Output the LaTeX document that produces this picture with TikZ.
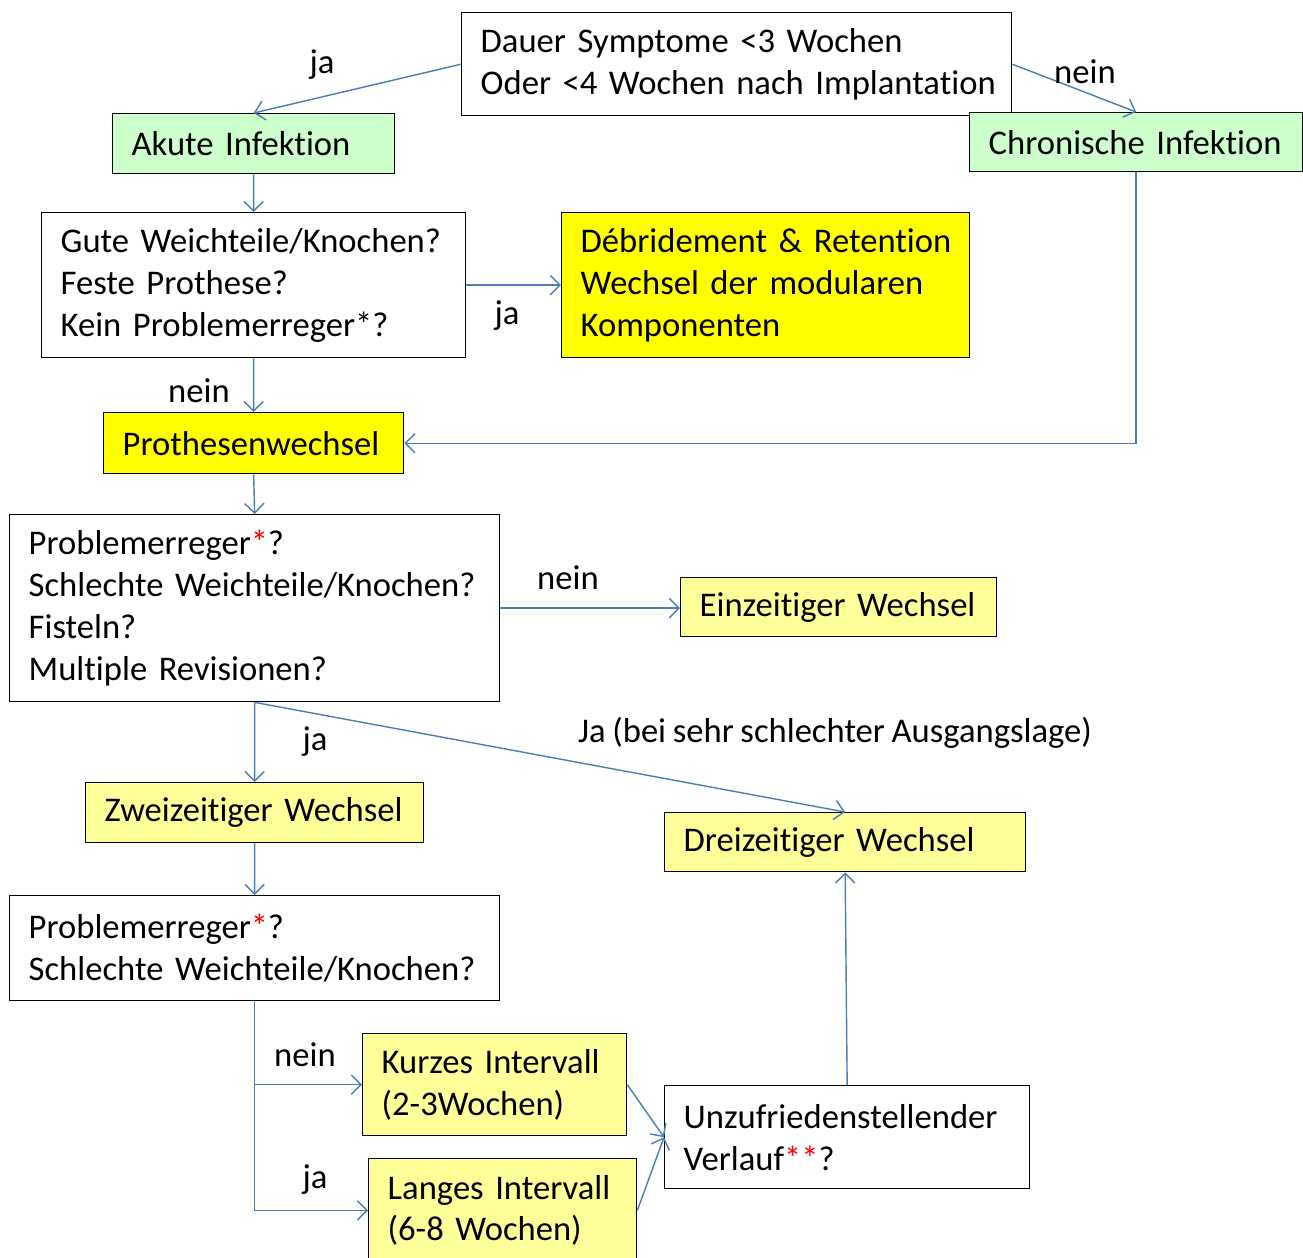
\documentclass[tikz,border=0pt]{standalone}
\usepackage{fontspec}
\setmainfont{Carlito}[Ligatures={NoCommon},WordSpace={0.85}]
\usetikzlibrary{arrows.meta}
\definecolor{flowblue}{HTML}{4A7EBB}
\definecolor{flowgreen}{HTML}{CCFFCC}
\definecolor{flowyellow}{HTML}{FFFF00}
\definecolor{flowpale}{HTML}{FFFF99}
\hyphenpenalty=10000
\exhyphenpenalty=10000
\hfuzz=\maxdimen
\hbadness=10000

\begin{document}
\begin{tikzpicture}[x=0.02cm,y=-0.02cm,
    font=\fontsize{19.7}{23.8}\selectfont,
    box/.style={draw=black,line width=0.8pt,anchor=north west,align=left,
      inner xsep=0.38cm,inner ysep=0pt},
    link/.style={draw=flowblue,line width=0.8pt,
      -{Straight Barb[length=5.5pt,width=11pt]}},
    tag/.style={inner sep=0pt}]
    \useasboundingbox (0,0) rectangle (1303,1258);

    \node[box,fill=white,text width=10.24cm,minimum height=2.06cm] (frage) at (461,12)
      {Dauer~Symptome~<3~Wochen\\Oder~<4~Wochen~nach~Implantation};
    \node[box,fill=flowgreen,text width=4.88cm,minimum height=1.2cm] (akut) at (112,113)
      {Akute Infektion};
    \node[box,fill=flowgreen,text width=5.9cm,minimum height=1.18cm] (chron) at (969,112)
      {Chronische~Infektion};
    \node[box,fill=white,text width=7.72cm,minimum height=2.9cm] (gute) at (41,212)
      {Gute~Weichteile/Knochen?\\Feste Prothese?\\Kein Problemerreger*?};
    \node[box,fill=flowyellow,text width=7.4cm,minimum height=2.9cm] (debr) at (561,212)
      {Débridement~\&~Retention\\Wechsel~der~modularen\\Komponenten};
    \node[box,fill=flowyellow,text width=5.24cm,minimum height=1.22cm] (wechsel) at (103,412)
      {Prothesenwechsel};

    \node[box,fill=white,text width=9.04cm,minimum height=3.74cm] (erreger) at (9,514)
      {Problemerreger\textcolor{red}{*}?\\Schlechte~Weichteile/Knochen?\\Fisteln?\\Multiple Revisionen?};
    \node[box,fill=flowpale,text width=5.56cm,minimum height=1.18cm] (einz) at (680,577)
      {Einzeitiger~Wechsel};
    \node[box,fill=flowpale,text width=6.0cm,minimum height=1.2cm] (zwei) at (85,782)
      {Zweizeitiger~Wechsel};
    \node[box,fill=flowpale,text width=6.46cm,minimum height=1.18cm] (drei) at (664,812)
      {Dreizeitiger~Wechsel};
    \node[box,fill=white,text width=9.04cm,minimum height=2.1cm] (erreger2) at (9,895)
      {Problemerreger\textcolor{red}{*}?\\Schlechte~Weichteile/Knochen?};
    \node[box,fill=flowpale,text width=4.52cm,minimum height=2.04cm] (kurz) at (362,1033)
      {Kurzes~Intervall\\(2-3Wochen)};
    \node[box,fill=flowpale,text width=4.6cm,minimum height=2.07cm] (lang) at (368,1158)
      {Langes~Intervall\\(6-8~Wochen)};
    \node[box,fill=white,text width=6.54cm,minimum height=2.06cm] (unzuf) at (664,1085)
      {Unzufriedenstellender\\Verlauf\textcolor{red}{**}?};

    \draw[link] (frage.west) -- (akut.north);
    \draw[link] (frage.east) -- (chron.north);
    \draw[link] (akut.south) -- (gute.north);
    \draw[link] (gute.east) -- (debr.west);
    \draw[link] (gute.south) -- (wechsel.north);
    \draw[link] (chron.south) |- (wechsel.east);
    \draw[link] (wechsel.south) -- (erreger.north);
    \draw[link] (erreger.east) -- (erreger.east -| einz.west);
    \draw[link] (erreger.south) -- (zwei.north);
    \draw[link] (erreger.south) -- (drei.north);
    \draw[link] (zwei.south) -- (erreger2.north);
    \draw[link] (erreger2.south) |- (kurz.west);
    \draw[link] (erreger2.south) |- (lang.west);
    \draw[link] (kurz.east) -- (unzuf.west);
    \draw[link] (lang.east) -- (unzuf.west);
    \draw[link] (unzuf.north) -- (drei.south);

    \node[tag] (ja1) at (322,65) {ja};
    \node[tag] (nein1) at (1085,72) {nein};
    \node[tag] (ja2) at (507,316) {ja};
    \node[tag] (nein2) at (199,391) {nein};
    \node[tag] (nein3) at (568,578) {nein};
    \node[tag] (ja3) at (315,742) {ja};
    \node[tag] (ja4) at (835,733) {Ja (bei sehr schlechter Ausgangslage)};
    \node[tag] (nein4) at (305,1055) {nein};
    \node[tag] (ja5) at (315,1180) {ja};
  \end{tikzpicture}
\end{document}
